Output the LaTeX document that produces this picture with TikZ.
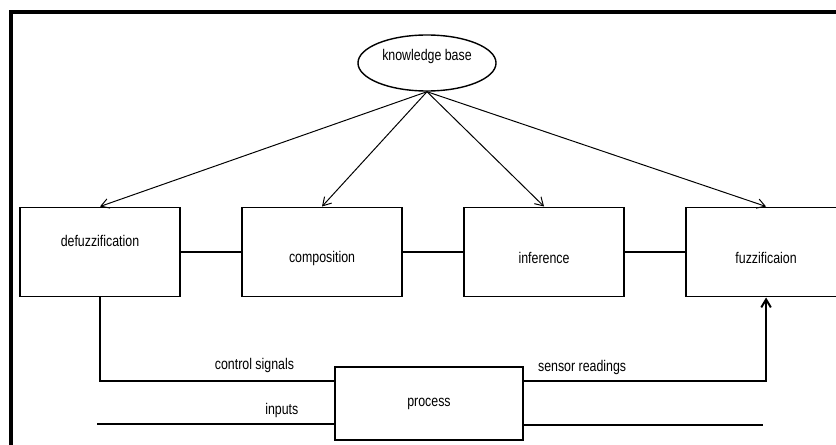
\documentclass[tikz,border=0pt]{standalone}
\usepackage{fontspec}
\newfontfamily\diagfont{Liberation Sans}[FakeStretch=0.8]
\usetikzlibrary{arrows.meta,positioning,shapes.geometric,calc}

\begin{document}
\begin{tikzpicture}[
  x=0.025cm, y=-0.025cm,
  every node/.style={font=\diagfont\fontsize{11}{13}\selectfont},
  blk/.style={rectangle, draw, line width=1.4pt, minimum width=4cm,
              minimum height=2.225cm, inner sep=0pt, align=center},
  kbshape/.style={ellipse, draw, line width=1pt, minimum width=3.45cm,
                  minimum height=1.4cm, inner sep=0pt, text depth=0.38cm},
  arr/.style={-{Straight Barb[length=2mm,width=2.4mm]}, line width=0.7pt},
  wire/.style={line width=1.4pt},
  lbl/.style={inner sep=2pt}
]
  \useasboundingbox (0,0) rectangle (836,445);
  \clip (0,0) rectangle (836,445);

  % Frame
  \draw[line width=2.2pt] (11,445) -- (11,12) -- (840,12);

  % Knowledge base
  \node[kbshape] (kb) at (427,63) {knowledge base};

  % Main chain of blocks
  \node[blk, text depth=0.55cm] (defuzz) at (100,252) {defuzzification};
  \node[blk, text height=0.6cm, right=1.5cm of defuzz] (comp) {composition};
  \node[blk, text height=0.6cm, right=1.5cm of comp] (infer) {inference};
  \node[blk, text height=0.6cm, right=1.5cm of infer] (fuzz) {fuzzificaion};

  % Process block
  \node[blk, minimum width=4.7cm, minimum height=1.825cm] (proc) at (429,403.5) {process};

  % Knowledge base arrows
  \foreach \b in {defuzz,comp,infer,fuzz}
    \draw[arr] (kb.south) -- (\b.north);

  % Links between blocks
  \draw[wire] (defuzz) -- (comp);
  \draw[wire] (comp) -- (infer);
  \draw[wire] (infer) -- (fuzz);

  % Control signals and inputs
  \draw[wire] (defuzz.south) |- node[pos=0.83, above=3pt, lbl] {control signals}
    ($(proc.north west)!0.2!(proc.south west)$);
  \coordinate (inp) at (97,424);
  \draw[wire] (inp) -- node[pos=0.78, above=2pt, lbl] {inputs} (inp -| proc.west);

  % Sensor readings and output
  \draw[wire, -{Straight Barb[length=2mm,width=2.4mm]}]
    ($(proc.north east)!0.2!(proc.south east)$) -| node[pos=0.12, above=2pt, lbl] {sensor readings} (fuzz.south);
  \coordinate (outp) at (763,425);
  \draw[wire] (proc.east |- outp) -- (outp);

\end{tikzpicture}
\end{document}
